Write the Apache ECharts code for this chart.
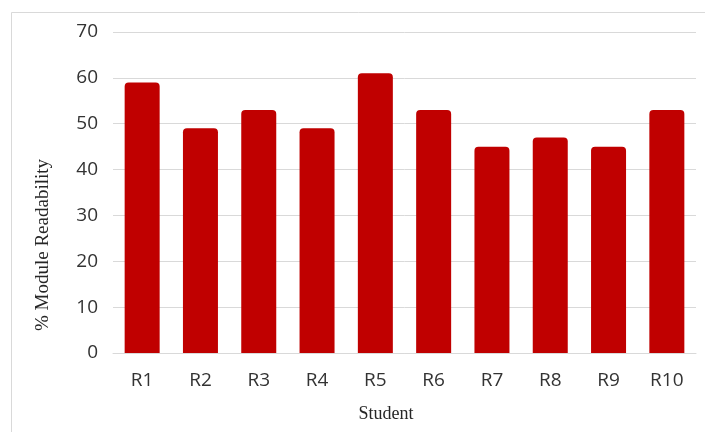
<!DOCTYPE html>
<html>
<head>
<meta charset="utf-8">
<script src="https://cdn.jsdelivr.net/npm/echarts@6/dist/echarts.min.js"></script>
<style>
  html, body { margin: 0; padding: 0; background: #ffffff; }
  #chart { width: 705px; height: 432px; }
</style>
</head>
<body>
<div id="chart"></div>
<script>
// Students and their module readability scores (%)
const students = ['R1', 'R2', 'R3', 'R4', 'R5', 'R6', 'R7', 'R8', 'R9', 'R10'];
const readability = [59, 49, 53, 49, 61, 53, 45, 47, 45, 53];
const yTicks = [0, 10, 20, 30, 40, 50, 60, 70];

const chart = echarts.init(document.getElementById('chart'), null, { renderer: 'canvas' });

chart.setOption({
  animation: false,
  backgroundColor: '#ffffff',
  grid: { left: 113, right: 9, top: 32, bottom: 79 },
  graphic: [
    {
      type: 'rect',
      shape: { x: 11.5, y: 12.5, width: 720, height: 450 },
      style: { fill: 'none', stroke: '#d9d9d9', lineWidth: 1 },
      silent: true
    },
    {
      type: 'text',
      rotation: Math.PI / 2,
      x: 43, y: 245,
      style: {
        text: '% Module Readability',
        font: '19px "Liberation Serif", "DejaVu Serif", serif',
        fill: '#262626',
        textAlign: 'center',
        textVerticalAlign: 'middle'
      }
    },
    {
      type: 'text',
      x: 386, y: 414,
      style: {
        text: 'Student',
        font: '18px "Liberation Serif", "DejaVu Serif", serif',
        fill: '#262626',
        textAlign: 'center',
        textVerticalAlign: 'middle'
      }
    }
  ],
  xAxis: {
    type: 'category',
    data: students,
    axisLine: { show: true, lineStyle: { color: '#d9d9d9', width: 1 } },
    axisTick: { show: false },
    axisLabel: {
      color: '#333333',
      fontFamily: '"Open Sans", sans-serif',
      fontSize: 19,
      margin: 18
    }
  },
  yAxis: {
    type: 'value',
    min: yTicks[0],
    max: yTicks[yTicks.length - 1],
    interval: 10,
    axisLine: { show: false },
    axisTick: { show: false },
    splitLine: { lineStyle: { color: '#d9d9d9', width: 1 } },
    axisLabel: {
      color: '#333333',
      fontFamily: '"Open Sans", sans-serif',
      fontSize: 19,
      margin: 15
    }
  },
  series: [{
    type: 'bar',
    data: readability,
    barWidth: 35,
    itemStyle: { color: '#c00000', borderRadius: [4, 4, 0, 0] }
  }]
});
</script>
</body>
</html>
